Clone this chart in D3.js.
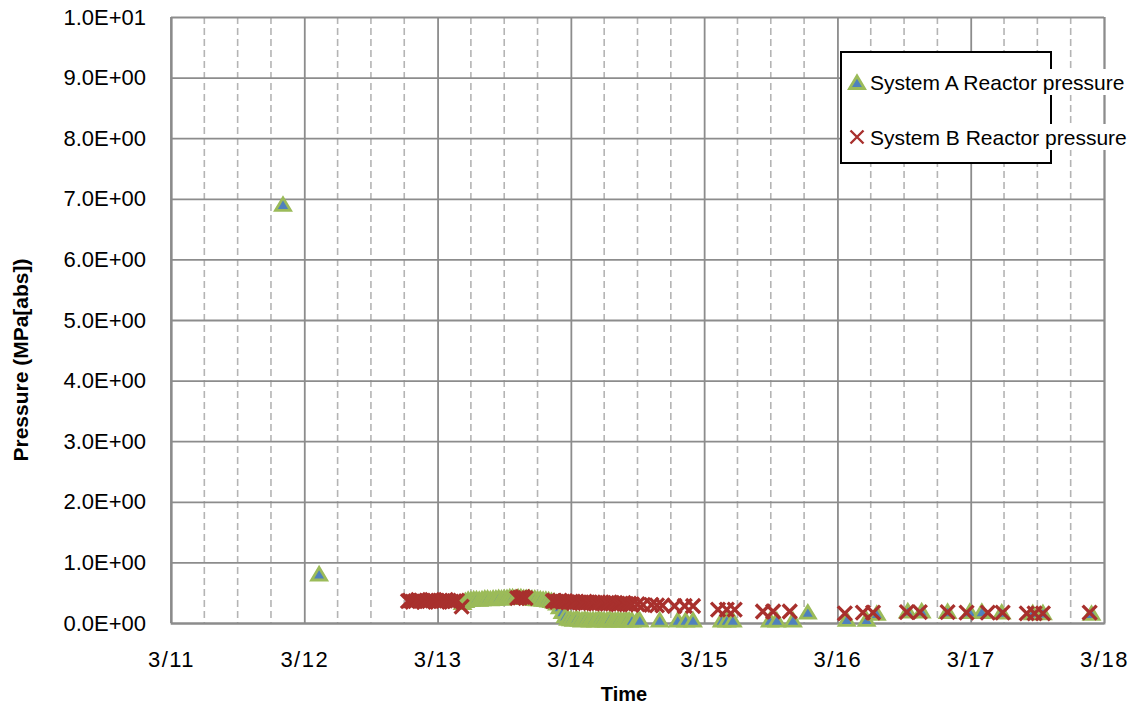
<!DOCTYPE html>
<html><head><meta charset="utf-8">
<script src="https://cdn.jsdelivr.net/npm/d3@7"></script>
<style>body{margin:0;background:#fff}svg{display:block}text{font-family:"Liberation Sans",Arial,sans-serif}</style>
</head><body><svg id="c" width="1136" height="708"></svg>
<script>
// ---- data ----
const xTickLabels = ["3/11","3/12","3/13","3/14","3/15","3/16","3/17","3/18"];
const yTickValues = [0,1,2,3,4,5,6,7,8,9,10];
const seriesNames = ["System A Reactor pressure","System B Reactor pressure"];

const timesA = ["3/11 20:10","3/12 02:40",
 "3/13 04:30","3/13 05:00","3/13 05:30","3/13 06:00","3/13 06:30","3/13 07:00","3/13 07:30","3/13 08:00",
 "3/13 08:30","3/13 09:00","3/13 09:30","3/13 10:00","3/13 10:30","3/13 11:00","3/13 11:30","3/13 12:00",
 "3/13 12:30","3/13 13:00","3/13 13:30","3/13 14:00","3/13 14:30","3/13 15:00","3/13 15:30","3/13 16:00",
 "3/13 16:30","3/13 17:00","3/13 17:30","3/13 18:00","3/13 18:30","3/13 19:00","3/13 19:30","3/13 20:00",
 "3/13 20:30","3/13 21:00","3/13 21:30","3/13 22:00","3/13 22:30","3/13 23:00","3/13 23:30",
 "3/14 00:00","3/14 00:30","3/14 01:00","3/14 01:30","3/14 02:00","3/14 02:30","3/14 03:00","3/14 03:30",
 "3/14 04:00","3/14 04:30","3/14 05:00","3/14 05:30","3/14 06:00","3/14 06:30","3/14 07:00","3/14 07:30",
 "3/14 08:00","3/14 08:30","3/14 09:00","3/14 09:30","3/14 10:00","3/14 10:30","3/14 11:00","3/14 12:00",
 "3/14 12:25","3/14 16:00","3/14 19:15","3/14 20:40","3/14 22:00",
 "3/15 03:10","3/15 04:05","3/15 05:10","3/15 11:50","3/15 13:05","3/15 16:00","3/15 18:40",
 "3/16 01:40","3/16 05:15","3/16 07:05","3/16 12:40","3/16 15:10","3/16 19:50","3/16 23:50",
 "3/17 02:00","3/17 05:35","3/17 11:10","3/17 13:00","3/17 21:45"];
const pressureA = [6.9,0.8,
 0.33,0.36,0.38,0.38,0.39,0.39,0.38,0.39,
 0.40,0.40,0.39,0.40,0.40,0.41,0.40,0.41,
 0.41,0.42,0.42,0.41,0.42,0.42,0.41,0.41,
 0.41,0.40,0.40,0.39,0.39,0.38,0.38,0.37,
 0.36,0.35,0.32,0.26,0.18,0.11,0.07,
 0.06,0.05,0.07,0.05,0.04,0.06,0.05,0.04,
 0.05,0.04,0.06,0.05,0.04,0.04,0.06,0.04,
 0.04,0.05,0.04,0.04,0.05,0.04,0.04,0.05,
 0.04,0.04,0.04,0.04,0.04,
 0.04,0.04,0.04,0.04,0.04,0.04,0.17,
 0.05,0.05,0.15,0.19,0.19,0.18,0.18,
 0.18,0.17,0.16,0.16,0.15];

const timesB = ["3/12 18:40","3/12 19:00","3/12 19:30","3/12 20:00","3/12 20:30","3/12 21:00","3/12 21:30",
 "3/12 22:00","3/12 22:30","3/12 23:00","3/12 23:30","3/13 00:00","3/13 00:30","3/13 01:00","3/13 01:30",
 "3/13 02:00","3/13 02:30","3/13 03:00","3/13 03:30","3/13 04:20",
 "3/13 14:20","3/13 14:50","3/13 15:20","3/13 15:50",
 "3/13 20:45","3/13 21:00","3/13 21:30","3/13 22:00","3/13 22:30","3/13 23:00","3/13 23:30",
 "3/14 00:00","3/14 00:30","3/14 01:00","3/14 01:30","3/14 02:00","3/14 02:30","3/14 03:00","3/14 03:30",
 "3/14 04:00","3/14 04:30","3/14 05:00","3/14 05:30","3/14 06:00","3/14 06:30","3/14 07:00","3/14 07:30",
 "3/14 08:00","3/14 08:30","3/14 09:00","3/14 09:30","3/14 10:00","3/14 10:30","3/14 11:00","3/14 12:00",
 "3/14 13:00","3/14 14:30","3/14 15:30","3/14 16:30","3/14 18:40","3/14 20:30","3/14 22:00",
 "3/15 02:30","3/15 04:05","3/15 05:30","3/15 10:35","3/15 12:25","3/15 15:25",
 "3/16 01:20","3/16 04:35","3/16 06:25","3/16 12:30","3/16 14:50","3/16 19:50","3/16 23:15",
 "3/17 03:05","3/17 05:45","3/17 10:05","3/17 11:30","3/17 13:00","3/17 21:25"];
const pressureB = [0.36,0.37,0.35,0.36,0.38,0.37,0.35,
 0.37,0.36,0.38,0.37,0.35,0.37,0.36,0.38,
 0.37,0.35,0.36,0.37,0.27,
 0.41,0.42,0.43,0.41,
 0.36,0.37,0.35,0.37,0.35,0.36,0.34,
 0.35,0.33,0.35,0.34,0.33,0.35,0.34,0.33,
 0.34,0.32,0.33,0.34,0.32,0.33,0.34,0.32,
 0.33,0.31,0.32,0.33,0.31,0.32,0.31,0.31,
 0.30,0.30,0.29,0.29,0.28,0.28,0.28,
 0.22,0.22,0.22,0.19,0.19,0.19,
 0.16,0.17,0.17,0.18,0.18,0.18,0.17,
 0.17,0.17,0.16,0.16,0.16,0.17];

// ---- chart ----
const parse = d3.timeParse("%Y/%m/%d %H:%M");
const pd = s => { const [md, hm] = s.split(" "); const [m, d] = md.split("/"); return parse(`2011/${m}/${d} ${hm}`); };
const dataA = timesA.map((t,i)=>({t:pd(t), v:pressureA[i]}));
const dataB = timesB.map((t,i)=>({t:pd(t), v:pressureB[i]}));

const L=171, R=1104, T=17, B=623;
const svg = d3.select("#c");
const x = d3.scaleTime().domain([pd("3/11 00:00"), pd("3/18 00:00")]).range([L,R]);
const y = d3.scaleLinear().domain([0,10]).range([B,T]);

// dashed 6h grid
const sixH = d3.timeHour.every(6).range(x.domain()[0], x.domain()[1]).filter(d=>d.getHours()!==0);
svg.append("g").selectAll("line").data(sixH).join("line")
  .attr("x1",d=>x(d)).attr("x2",d=>x(d)).attr("y1",T).attr("y2",B)
  .attr("stroke","#b4b4b4").attr("stroke-width",1.6).attr("stroke-dasharray","7,4");

// horizontal grid + y labels
const fmtE = v => { const s = v.toExponential(1).toUpperCase(); const [m,e] = s.split("E"); const sign = e[0]; const num = e.slice(1).padStart(2,"0"); return `${m}E${sign}${num}`; };
const gy = svg.append("g").attr("transform",`translate(${L},0)`)
  .call(d3.axisLeft(y).tickValues(yTickValues).tickSize(-(R-L)).tickPadding(25).tickFormat(fmtE));
gy.select(".domain").remove();
gy.selectAll(".tick line").attr("stroke","#8c8c8c").attr("stroke-width",1.8);
gy.selectAll(".tick text").attr("font-size",22).attr("fill","#000").attr("font-family","Liberation Sans, Arial, sans-serif");

// vertical day grid + x labels
const days = d3.timeDay.range(x.domain()[0], d3.timeHour.offset(x.domain()[1],1));
const gx = svg.append("g").attr("transform",`translate(0,${B})`)
  .call(d3.axisBottom(x).tickValues(days).tickSize(-(B-T)).tickPadding(28).tickFormat((d,i)=>xTickLabels[i]));
gx.select(".domain").attr("stroke","#8c8c8c").attr("stroke-width",1.8);
gx.selectAll(".tick line").attr("stroke","#8c8c8c").attr("stroke-width",1.8);
gx.selectAll(".tick text").attr("font-size",22).attr("fill","#000").attr("letter-spacing","1.5px").attr("font-family","Liberation Sans, Arial, sans-serif");

// left axis line
svg.append("line").attr("x1",L).attr("x2",L).attr("y1",T).attr("y2",B).attr("stroke","#8c8c8c").attr("stroke-width",1.8);

// axis titles
svg.append("text").attr("x",624).attr("y",701).attr("text-anchor","middle")
  .attr("font-size",20).attr("font-weight","bold").text("Time");
svg.append("text").attr("transform","translate(28,360) rotate(-90)").attr("text-anchor","middle")
  .attr("font-size",21).attr("font-weight","bold").text("Pressure (MPa[abs])");

// markers
const tri = "M0,-7L7.5,5.5L-7.5,5.5Z";
function drawTri(g, cx, cy){ g.append("path").attr("d",tri).attr("transform",`translate(${cx},${cy})`)
  .attr("fill","#4f81bd").attr("stroke","#9bbb59").attr("stroke-width",2.8).attr("stroke-linejoin","miter"); }
function drawX(g, cx, cy, s, w){ s = s||7; g.append("path").attr("d",`M${-s},${-s}L${s},${s}M${-s},${s}L${s},${-s}`)
  .attr("transform",`translate(${cx},${cy})`).attr("stroke","#a8302d").attr("stroke-width",w||3.3).attr("fill","none"); }

const gA = svg.append("g");
dataA.forEach(d=>drawTri(gA, x(d.t), y(d.v)));
const gB = svg.append("g");
dataB.forEach(d=>drawX(gB, x(d.t), y(d.v)));

// legend
const lg = svg.append("g");
lg.append("rect").attr("x",841).attr("y",52).attr("width",210).attr("height",111)
  .attr("fill","#fff").attr("stroke","#000").attr("stroke-width",2);
const rows = [82,137];
rows.forEach((ry,i)=>{
  const t = lg.append("text").attr("x",870).attr("y",ry).attr("dy","0.36em").attr("font-size",21).attr("fill","#000").text(seriesNames[i]);
  const bb = t.node().getBBox();
  lg.insert("rect", function(){return t.node();}).attr("x",bb.x-1).attr("y",ry-13).attr("width",bb.width+3).attr("height",26).attr("fill","#fff");
});
drawTri(lg, 857, 83);
drawX(lg, 857, 137, 6.5, 2.4);
</script></body></html>
